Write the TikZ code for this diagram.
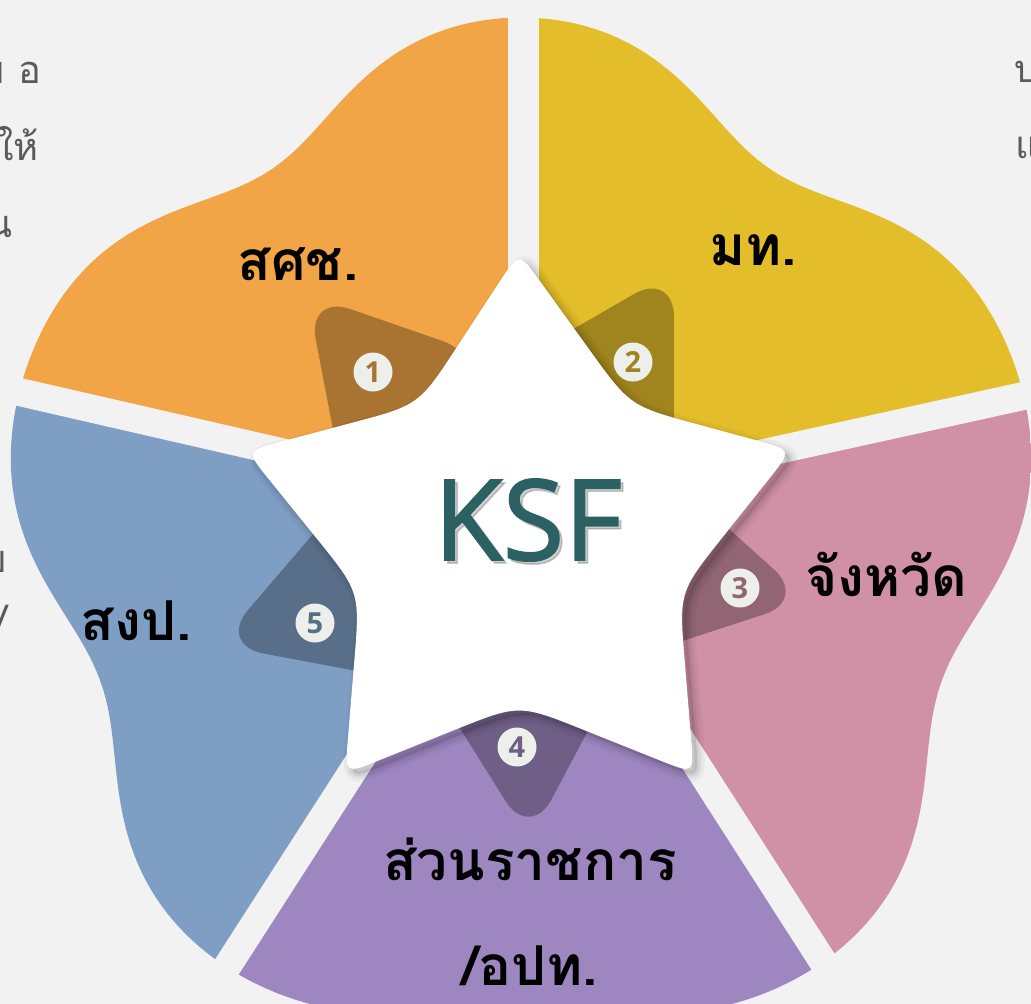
\documentclass[tikz,border=0pt]{standalone}
\usepackage{fontspec}
\usetikzlibrary{calc}
\newfontfamily\thaifont[Script=Thai]{Loma}
\newfontfamily\ksffont{Open Sans}
\newfontfamily\ksfbold{Open Sans}[FakeBold=1.6]
\definecolor{bg}{HTML}{F2F2F2}
\definecolor{corange}{HTML}{F2A546}
\definecolor{cyellow}{HTML}{E4BD2A}
\definecolor{cpink}{HTML}{D091A6}
\definecolor{cblue}{HTML}{7F9EC4}
\definecolor{cpurple}{HTML}{9E87C1}
\definecolor{ksfcol}{HTML}{2B6163}
\definecolor{numbg}{HTML}{EDEFEA}
\definecolor{fragtext}{HTML}{5A5A5A}
\def\tipr{36pt}
\def\innr{70pt}
\newcommand\mystarpath{%
 ($(st1)!\tipr!(si5)$) .. controls (st1) .. ($(st1)!\tipr!(si1)$)
 -- ($(si1)!\innr!(st1)$) .. controls (si1) .. ($(si1)!\innr!(st2)$)
 -- ($(st2)!\tipr!(si1)$) .. controls (st2) .. ($(st2)!\tipr!(si2)$)
 -- ($(si2)!\innr!(st2)$) .. controls (si2) .. ($(si2)!\innr!(st3)$)
 -- ($(st3)!\tipr!(si2)$) .. controls (st3) .. ($(st3)!\tipr!(si3)$)
 -- ($(si3)!\innr!(st3)$) .. controls (si3) .. ($(si3)!\innr!(st4)$)
 -- ($(st4)!\tipr!(si3)$) .. controls (st4) .. ($(st4)!\tipr!(si4)$)
 -- ($(si4)!\innr!(st4)$) .. controls (si4) .. ($(si4)!\innr!(st5)$)
 -- ($(st5)!\tipr!(si4)$) .. controls (st5) .. ($(st5)!\tipr!(si5)$)
 -- ($(si5)!\innr!(st5)$) .. controls (si5) .. ($(si5)!\innr!(st1)$)
 -- cycle}
\newcommand\myflowerpath{plot[smooth cycle, domain=0:358, samples=180, variable=\t]
 ({521+rr(\t)*cos(\t)},{539+rr(\t)*sin(\t)})}
\newcommand\mybadge[2]{%
 \fill[#2, rounded corners=46pt] (#1) -- ($(#1)!190pt!30:(C)$) -- ($(#1)!190pt!-30:(C)$) -- cycle;}
\begin{document}
\begin{tikzpicture}[x=1pt,y=-1pt,
  declare function={
    vd(\t,\v)=abs(mod(\t-\v+540,360)-180);
    gq(\t,\v,\w)=exp(-1*min(vd(\t,\v)/\w,3.5)*min(vd(\t,\v)/\w,3.5));
    rr(\t)=526-80*gq(\t,236,18)-80*gq(\t,304,18)-82*gq(\t,161,19)-82*gq(\t,19,19)-52*gq(\t,90,22);
  },
  lbl/.style={font=\thaifont\bfseries\fontsize{55}{62}\selectfont, text=black, inner sep=0pt, anchor=base},
  frag/.style={font=\thaifont\fontsize{38}{44}\selectfont, text=fragtext, inner sep=0pt},
  numc/.style={circle, fill=numbg, minimum size=39pt, inner sep=0pt, font=\ksffont\bfseries\fontsize{29}{29}\selectfont},
  gapline/.style={draw=bg, line width=28pt}]
\useasboundingbox (0,0) rectangle (1031,1004);
\clip (0,0) rectangle (1031,1004);
\fill[bg] (0,0) rectangle (1031,1004);
% star geometry
\coordinate (C) at (519,539);
\coordinate (st1) at (519,252);
\coordinate (st2) at (792,450);
\coordinate (st3) at (694,774);
\coordinate (st4) at (345,774);
\coordinate (st5) at (246,451);
\coordinate (si1) at (630,406);
\coordinate (si2) at (679,592);
\coordinate (si3) at (519,704);
\coordinate (si4) at (360,592);
\coordinate (si5) at (419,405);
% petals
\begin{scope}
 \clip \myflowerpath;
 \fill[corange] (C) -- (523,360) -- (523,-300) -- (-522,-300) -- (-522,269) -- (355,469) -- cycle;
 \fill[cyellow] (C) -- (523,360) -- (523,-300) -- (1567,-300) -- (1567,276) -- (687,470) -- cycle;
 \fill[cpink] (C) -- (687,470) -- (1567,276) -- (1567,1436) -- (1127,1436) -- (641,678) -- cycle;
 \fill[cpurple] (C) -- (641,678) -- (1127,1436) -- (-75,1436) -- (412,679) -- cycle;
 \fill[cblue] (C) -- (412,679) -- (-75,1436) -- (-522,1436) -- (-522,269) -- (355,469) -- cycle;
\end{scope}
% gaps
\draw[gapline, line width=31pt] (523,360) -- (523,-50);
\draw[gapline] (355,469) -- (-229,335);
\draw[gapline] (687,470) -- (1273,341);
\draw[gapline] (412,679) -- (88,1183);
\draw[gapline] (641,678) -- (965,1183);
% badges
\coordinate (a1) at (307,294);
\coordinate (a2) at (674,271);
\coordinate (a3) at (808,600);
\coordinate (a4) at (530,840);
\coordinate (a5) at (218,645);
\mybadge{a1}{corange!70!black}
\mybadge{a2}{cyellow!70!black}
\mybadge{a3}{cpink!70!black}
\mybadge{a4}{cpurple!70!black}
\mybadge{a5}{cblue!70!black}
\node[numc, text=corange!70!black] (n1) at (373,372) {1};
\node[numc, text=cyellow!70!black] (n2) at (633,362) {2};
\node[numc, text=cpink!70!black] (n3) at (740,588) {3};
\node[numc, text=cpurple!70!black] (n4) at (517,747) {4};
\node[numc, text=cblue!70!black] (n5) at (315,623) {5};
% star shadow
\begin{scope}[transform canvas={shift={(5pt,-5pt)}}]
 \fill[black, opacity=0.10] \mystarpath;
 \foreach \w/\o in {16/0.035, 10/0.045, 5/0.055}
  \draw[black, opacity=\o, line width=\w pt, line join=round] \mystarpath;
\end{scope}
% star
\fill[white] \mystarpath;
% KSF
\node[inner sep=0pt, anchor=base, text=black, opacity=0.18, font=\ksfbold\fontsize{112}{112}\selectfont] (ksfs) at (531,563) {KSF};
\node[inner sep=0pt, anchor=base, text=ksfcol, font=\ksfbold\fontsize{112}{112}\selectfont] (ksf) at (528,560) {KSF};
% labels
\node[lbl] (l1) at (298,280) {สศช.};
\node[lbl] (l2) at (753,265) {มท.};
\node[lbl] (l3) at (886,596) {จังหวัด};
\node[lbl] (l5) at (136,640) {สงป.};
\node[lbl] (l4a) at (530,880) {ส่วนราชการ};
\node[lbl] (l4b) at (530,985) {/อปท.};
% edge fragments
\node[frag, anchor=base west] (f1) at (18,83) {อ};
\node[frag, anchor=base east] (f2) at (5,83) {บ};
\node[frag, anchor=base east] (f3) at (39,160) {ให้};
\node[frag, anchor=base east] (f4) at (13,237) {น};
\node[frag, anchor=base west] (f5) at (1014,82) {บ};
\node[frag, anchor=base west] (f6) at (1015,158) {แ};
\node[frag, anchor=base east] (f7) at (7,572) {บ};
\node[frag, anchor=base east] (f8) at (8,632) {/};
\end{tikzpicture}
\end{document}
